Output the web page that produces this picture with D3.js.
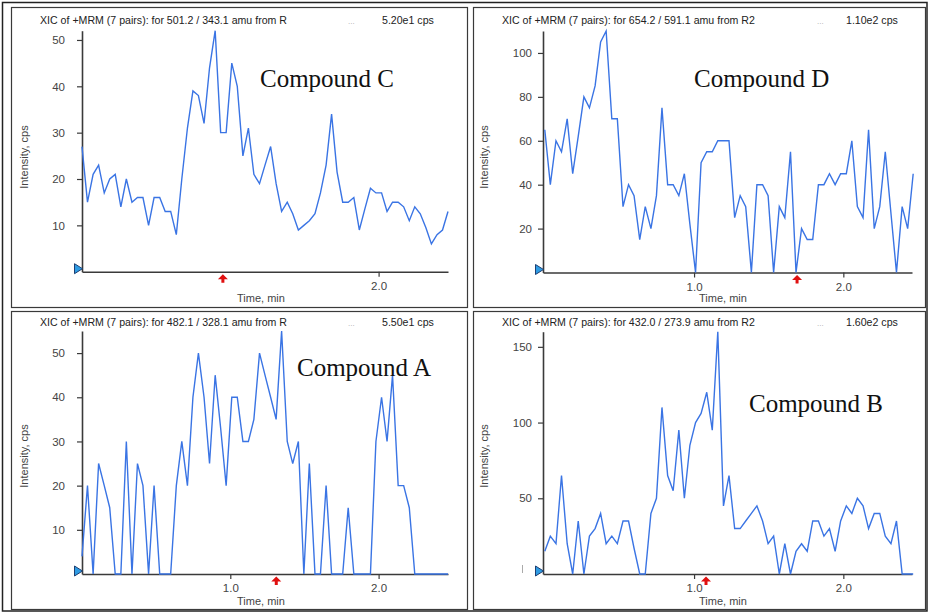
<!DOCTYPE html>
<html>
<head>
<meta charset="utf-8">
<script src="https://cdn.jsdelivr.net/npm/d3@7"></script>
<style>
  body { margin: 0; background: #fff; }
  svg { display: block; }
</style>
</head>
<body>
<svg id="chart" width="930" height="614"></svg>
<script>
// sample times (min), shared by the four XIC traces
const times = [
  0.000, 0.037, 0.075, 0.112, 0.150, 0.187, 0.224, 0.262, 0.299, 0.337,
  0.374, 0.411, 0.449, 0.486, 0.524, 0.561, 0.598, 0.636, 0.673, 0.711,
  0.748, 0.785, 0.823, 0.860, 0.898, 0.935, 0.972, 1.010, 1.047, 1.085,
  1.122, 1.159, 1.197, 1.234, 1.272, 1.309, 1.346, 1.384, 1.421, 1.459,
  1.496, 1.533, 1.571, 1.608, 1.646, 1.683, 1.720, 1.758, 1.795, 1.833,
  1.870, 1.907, 1.945, 1.982, 2.020, 2.057, 2.094, 2.132, 2.169, 2.207,
  2.244, 2.281, 2.319, 2.356, 2.394, 2.431, 2.468
];

const compoundC = [
  27, 15, 21, 23, 17, 20, 21, 14, 20, 15,
  16, 16, 10, 16, 16, 13, 13, 8, 20, 31,
  39, 38, 32, 44, 52, 30, 30, 45, 40, 25,
  31, 21, 19, 23, 27, 19, 13, 15, 12.5, 9,
  10, 11, 12.5, 17, 23, 34, 21.5, 15, 15, 16,
  9, 13.5, 18, 17, 17, 13, 15, 15, 14, 11,
  14, 12.5, 9.5, 6, 8, 9, 13
];

const compoundD = [
  65, 40, 60, 55, 70, 45, 62, 80, 75, 85,
  105, 110, 70, 70, 30, 40, 35, 15, 30, 20,
  35, 75, 40, 40, 35, 45, 22, 0, 50, 55,
  55, 60, 60, 60, 25, 35, 30, 0, 40, 40,
  35, 0, 30, 25, 55, 0, 20, 15, 15, 40,
  40, 45, 40, 45, 45, 60, 30, 25, 65, 20,
  30, 55, 27, 0, 30, 20, 45
];

const compoundA = [
  4, 20, 0, 25, 20, 15, 0, 0, 30, 0,
  25, 20, 0, 20, 0, 0, 0, 20, 30, 20,
  40, 50, 40, 25, 45, 33, 20, 40, 40, 30,
  30, 35, 50, 45, 40, 35, 55, 30, 25, 30,
  0, 25, 0, 0, 20, 0, 0, 0, 15, 0,
  0, 0, 0, 30, 40, 30, 45, 20, 20, 15,
  0, 0, 0, 0, 0, 0, 0
];

const compoundB = [
  15, 25, 20, 65, 20, 0, 35, 0, 25, 30,
  40, 20, 25, 20, 35, 35, 17, 0, 0, 40,
  50, 110, 65, 55, 95, 50, 85, 100, 106, 120,
  95, 160, 45, 65, 30, 30, 35, 40, 45, 35,
  20, 25, 0, 20, 0, 15, 20, 15, 35, 35,
  25, 30, 15, 35, 45, 40, 50, 45, 30, 40,
  40, 25, 20, 35, 0, 0, 0
];

// order: top-left, top-right, bottom-left, bottom-right
const compoundNames = ["Compound C", "Compound D", "Compound A", "Compound B"];
const headers = [
  "XIC of +MRM (7 pairs): for 501.2 / 343.1 amu from R",
  "XIC of +MRM (7 pairs): for 654.2 / 591.1 amu from R2",
  "XIC of +MRM (7 pairs): for 482.1 / 328.1 amu from R",
  "XIC of +MRM (7 pairs): for 432.0 / 273.9 amu from R2"
];
const maxCps = ["5.20e1 cps", "1.10e2 cps", "5.50e1 cps", "1.60e2 cps"];
const yMaxes = [52, 110, 55, 160];
const yTickSets = [[10, 20, 30, 40, 50], [20, 40, 60, 80, 100], [10, 20, 30, 40, 50], [50, 100, 150]];
const xTickSets = [[2.0], [1.0, 2.0], [1.0, 2.0], [1.0, 2.0]];
const markerTimes = [0.95, 1.69, 1.31, 1.08];
const series = [compoundC, compoundD, compoundA, compoundB];

// pixel layout of each panel
const layout = [
  { frame: [11, 7, 467, 307], xr: [82, 448], td: [0, 2.468], yr: [271.7, 30.7], ypad: 12,
    hx: 40, hy: 24, dx: 348, cx: 382, lx: 260, ly: 87, tx: 261, ty: 302, ix: 27.5, iy: 157 },
  { frame: [473, 7, 925, 307], xr: [543, 912], td: [-0.012, 2.46], yr: [272.5, 31], ypad: 6,
    hx: 502, hy: 24, dx: 817, cx: 846, lx: 694, ly: 87, tx: 723, ty: 302, ix: 488, iy: 157 },
  { frame: [11, 311, 467, 609], xr: [82, 448], td: [0, 2.468], yr: [574, 331], ypad: 12,
    hx: 40, hy: 325.5, dx: 348, cx: 382, lx: 297, ly: 376, tx: 261, ty: 605, ix: 27.5, iy: 456 },
  { frame: [473, 311, 925, 609], xr: [543, 912], td: [-0.012, 2.46], yr: [574, 331.7], ypad: 6,
    hx: 502, hy: 325.5, dx: 817, cx: 846, lx: 749, ly: 412, tx: 723, ty: 605, ix: 488, iy: 456 }
];

const sans = "'Liberation Sans', Arial, sans-serif";
const lineColor = "#3a74e4";

const svg = d3.select("#chart");

// outer frame
svg.append("rect")
  .attr("x", 2.5).attr("y", 2.5)
  .attr("width", 924.5).attr("height", 608.5)
  .attr("fill", "none").attr("stroke", "#222").attr("stroke-width", 1.5);

series.forEach((values, i) => {
  const L = layout[i];
  const g = svg.append("g");

  g.append("rect")
    .attr("x", L.frame[0] + 0.5).attr("y", L.frame[1] + 0.5)
    .attr("width", L.frame[2] - L.frame[0]).attr("height", L.frame[3] - L.frame[1])
    .attr("fill", "none").attr("stroke", "#3a3a3a").attr("stroke-width", 1.2);

  const x = d3.scaleLinear().domain(L.td).range(L.xr);
  const y = d3.scaleLinear().domain([0, yMaxes[i]]).range(L.yr);

  // header
  g.append("text").attr("x", L.hx).attr("y", L.hy)
    .attr("font-family", sans).attr("font-size", 10.6).attr("fill", "#222")
    .text(headers[i]);
  g.append("text").attr("x", L.dx).attr("y", L.hy)
    .attr("font-family", sans).attr("font-size", 8).attr("fill", "#aaa")
    .text("...");
  g.append("text").attr("x", L.cx).attr("y", L.hy)
    .attr("font-family", sans).attr("font-size", 10.6).attr("fill", "#222")
    .text(maxCps[i]);

  // axes
  const yAxis = g.append("g")
    .attr("transform", `translate(${L.xr[0]},0)`)
    .call(d3.axisLeft(y).tickValues(yTickSets[i]).tickSize(5).tickPadding(L.ypad).tickSizeOuter(0));
  const xAxis = g.append("g")
    .attr("transform", `translate(0,${L.yr[0]})`)
    .call(d3.axisBottom(x).tickValues(xTickSets[i]).tickFormat(d3.format(".1f"))
      .tickSize(5).tickPadding(5).tickSizeOuter(0));

  [yAxis, xAxis].forEach(a => {
    a.select(".domain").attr("stroke", "#3a3a3a").attr("stroke-width", 1.6);
    a.selectAll(".tick line").attr("stroke", "#3a3a3a").attr("stroke-width", 1.2);
    a.selectAll(".tick text").attr("font-family", sans).attr("font-size", 11.5).attr("fill", "#444");
  });

  // axis titles
  g.append("text")
    .attr("x", L.tx).attr("y", L.ty)
    .attr("text-anchor", "middle")
    .attr("font-family", sans).attr("font-size", 11).attr("fill", "#444")
    .text("Time, min");
  g.append("text")
    .attr("transform", `translate(${L.ix},${L.iy}) rotate(-90)`)
    .attr("text-anchor", "middle")
    .attr("font-family", sans).attr("font-size", 11).attr("fill", "#444")
    .text("Intensity, cps");

  // trace
  const line = d3.line()
    .x((d, j) => x(times[j]))
    .y(d => y(d));
  g.append("path")
    .datum(values)
    .attr("fill", "none")
    .attr("stroke", lineColor)
    .attr("stroke-width", 1.4)
    .attr("stroke-linejoin", "miter")
    .attr("d", line);

  // start-of-trace marker (blue triangle at the origin)
  const ox = L.xr[0], oy = L.yr[0];
  g.append("path")
    .attr("d", `M${ox - 7.5},${oy - 8} L${ox + 0.5},${oy - 3} L${ox - 7.5},${oy + 2} Z`)
    .attr("fill", "#2e9be3").attr("stroke", "#1d3f72").attr("stroke-width", 1);

  // red retention-time arrow
  const mx = x(markerTimes[i]);
  g.append("path")
    .attr("d", `M${mx},${oy + 2.5} L${mx + 5},${oy + 7.5} L${mx + 1.5},${oy + 7.5} L${mx + 1.5},${oy + 11}
      L${mx - 1.5},${oy + 11} L${mx - 1.5},${oy + 7.5} L${mx - 5},${oy + 7.5} Z`)
    .attr("fill", "#e01010");

  // compound label
  g.append("text")
    .attr("x", L.lx).attr("y", L.ly)
    .attr("font-family", "'Liberation Serif', 'Times New Roman', serif")
    .attr("font-size", 25).attr("fill", "#111")
    .text(compoundNames[i]);
});

// small grey stub left of the bottom-right axis
svg.append("line")
  .attr("x1", 522.5).attr("x2", 522.5).attr("y1", 565).attr("y2", 573)
  .attr("stroke", "#aaa").attr("stroke-width", 1);
</script>
</body>
</html>
